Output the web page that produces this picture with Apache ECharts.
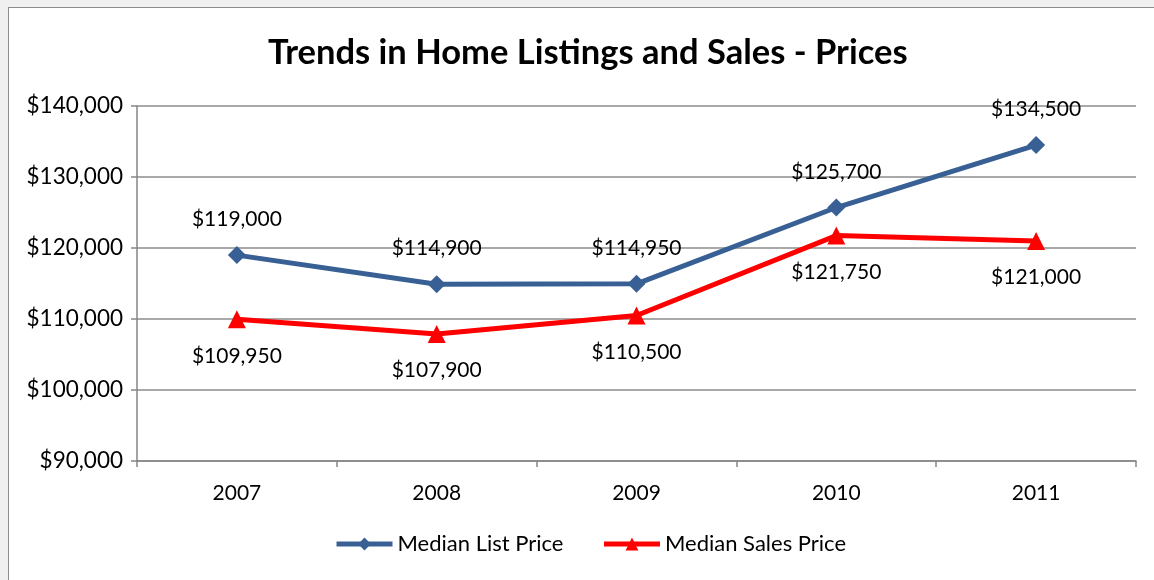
<!DOCTYPE html>
<html>
<head>
<meta charset="utf-8">
<script src="https://cdn.jsdelivr.net/npm/echarts@6/dist/echarts.min.js"></script>
<style>
  html, body { margin: 0; padding: 0; background: #f0f0f0; }
  #frame { position: absolute; left: 8px; top: 7px; width: 1160px; height: 590px; background: #fff; border: 1px solid #8c8c8c; }
  #main { position: absolute; left: -9px; top: -8px; width: 1154px; height: 580px; }
</style>
</head>
<body>
<div id="frame"><div id="main"></div></div>
<script>
var years = ['2007', '2008', '2009', '2010', '2011'];
var listPrice = [119000, 114900, 114950, 125700, 134500];
var salesPrice = [109950, 107900, 110500, 121750, 121000];
var yTicks = { min: 90000, max: 140000, step: 10000 };

var font = 'Lato, "Open Sans", sans-serif';

function money(v) {
    return '$' + String(v).replace(/\B(?=(\d{3})+(?!\d))/g, ',');
}

var chart = echarts.init(document.getElementById('main'));

chart.setOption({
    animation: false,
    textStyle: { fontFamily: font },
    title: {
        text: 'Trends in Home Listings and Sales - Prices',
        left: 263,
        top: 30,
        textStyle: { fontSize: 34.5, fontWeight: 'bold', color: '#000', fontFamily: font }
    },
    legend: {
        bottom: 20,
        left: 329,
        itemWidth: 56,
        itemHeight: 16,
        itemGap: 38,
        lineStyle: { width: 5 },
        textStyle: { fontSize: 22, color: '#000', fontFamily: font },
        data: ['Median List Price', 'Median Sales Price']
    },
    grid: { left: 137, right: 18, top: 106, bottom: 119 },
    xAxis: {
        type: 'category',
        data: years,
        boundaryGap: true,
        axisLine: { lineStyle: { color: '#868686', width: 1.5 } },
        axisTick: { show: true, length: 6, lineStyle: { color: '#868686', width: 1.5 } },
        axisLabel: { fontSize: 21, color: '#000', margin: 22, fontFamily: font }
    },
    yAxis: {
        type: 'value',
        min: yTicks.min,
        max: yTicks.max,
        interval: yTicks.step,
        axisLine: { show: true, lineStyle: { color: '#868686', width: 1.5 } },
        axisTick: { show: true, length: 6, lineStyle: { color: '#868686', width: 1.5 } },
        splitLine: { lineStyle: { color: '#8c8c8c', width: 1.5 } },
        axisLabel: { fontSize: 22.5, color: '#000', margin: 14, formatter: money, fontFamily: font }
    },
    series: [
        {
            name: 'Median List Price',
            type: 'line',
            data: listPrice,
            symbol: 'diamond',
            symbolSize: 18,
            itemStyle: { color: '#386094' },
            lineStyle: { color: '#386094', width: 5 },
            label: {
                show: true, position: 'top', distance: 16,
                fontSize: 21, color: '#000', fontFamily: font,
                formatter: function (p) { return money(p.value); }
            }
        },
        {
            name: 'Median Sales Price',
            type: 'line',
            data: salesPrice,
            symbol: 'triangle',
            symbolSize: 18,
            itemStyle: { color: '#ff0000' },
            lineStyle: { color: '#ff0000', width: 5 },
            label: {
                show: true, position: 'bottom', distance: 17,
                fontSize: 21, color: '#000', fontFamily: font,
                formatter: function (p) { return money(p.value); }
            }
        }
    ]
});
</script>
</body>
</html>
